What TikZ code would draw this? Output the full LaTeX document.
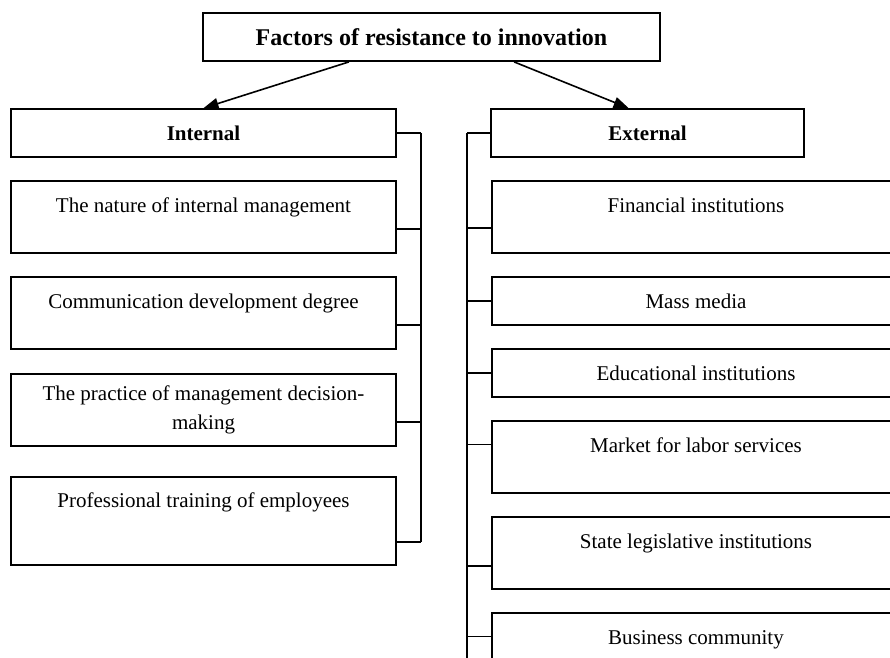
\documentclass[tikz,border=0pt]{standalone}
\usepackage{fontspec}
\setmainfont{Liberation Serif}
\usetikzlibrary{arrows.meta, positioning, calc}

\tikzset{
	box/.style={draw, line width=1.8pt, minimum height=48pt, inner sep=2pt, font=\fontsize{21}{27}\selectfont},
	leftbox/.style={box, minimum width=385pt},
	rightbox/.style={box, minimum width=408pt},
	tallbox/.style={minimum height=72pt, text height=15pt, text depth=25pt},
	headbox/.style={box, font=\fontsize{21}{27}\selectfont\bfseries},
	link/.style={line width=1.8pt},
	arrow/.style={line width=1.6pt, -{Triangle[length=15pt, width=11pt]}}
}

\begin{document}
\begin{tikzpicture}[x=1pt, y=-1pt]
				\useasboundingbox (0,0) rectangle (890,657);

				% Draw the title and the two groups
				\node[box, minimum width=457pt, font=\fontsize{24}{28}\selectfont\bfseries] (factors) at (431.5,37) {Factors of resistance to innovation};
				\node[headbox, minimum width=385pt] (internal) at (203.5,133) {Internal};
				\node[headbox, minimum width=313pt] (external) at (647.5,133) {External};

				\draw[arrow] ($(factors.south west)!.32!(factors.south east)$) -- (internal.north);
				\draw[arrow] ($(factors.south west)!.68!(factors.south east)$) -- ($(external.north west)!.44!(external.north east)$);

				% Internal factors
				\node[leftbox, tallbox] (l1) at (203.5,217) {The nature of internal management};
				\node[leftbox, tallbox] (l2) at (203.5,313) {Communication development degree};
				\node[leftbox, minimum height=72pt, align=center, font=\fontsize{21}{29}\selectfont] (l3) at (203.5,410) {The practice of management decision-\\making};
				\node[leftbox, tallbox, minimum height=88pt, text depth=43pt] (l4) at (203.5,521) {Professional training of employees};

				% External factors
				\node[rightbox, tallbox] (r1) at (696,217) {Financial institutions};
				\node[rightbox] (r2) at (696,301) {Mass media};
				\node[rightbox] (r3) at (696,373) {Educational institutions};
				\node[rightbox, tallbox] (r4) at (696,457) {Market for labor services};
				\node[rightbox, tallbox] (r5) at (696,553) {State legislative institutions};
				\node[rightbox, tallbox] (r6) at (696,649) {Business community};

				% Brackets
				\draw[link] (internal.east) -- ++(24,0) coordinate (lbus);
				\foreach \b/\f in {l1/.66, l2/.66, l3/.66, l4/.73} {
					\coordinate (\b-t) at ($(\b.north east)!\f!(\b.south east)$);
					\draw[link] (\b-t) -- (\b-t -| lbus);
				}
				\draw[link] (lbus) -- (l4-t -| lbus);

				\draw[link] (external.west) -- ++(-23,0) coordinate (rbus);
				\foreach \b/\f in {r1/.65, r2/.5, r3/.5, r4/.33, r5/.68, r6/.33} {
					\coordinate (\b-t) at ($(\b.north west)!\f!(\b.south west)$);
					\draw[link] (\b-t) -- (\b-t -| rbus);
				}
				\draw[link] (rbus) -- (rbus |- r6.south);

			\end{tikzpicture}
\end{document}
